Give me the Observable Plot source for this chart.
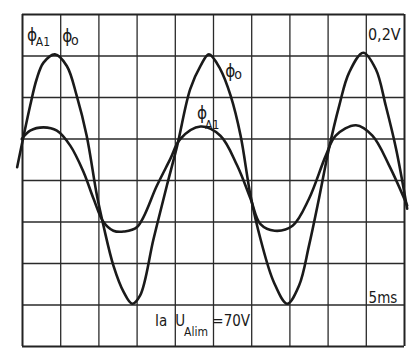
<!DOCTYPE html>
<html>
<head>
<meta charset="utf-8">
<script src="https://cdn.jsdelivr.net/npm/d3@7"></script>
<script src="https://cdn.jsdelivr.net/npm/@observablehq/plot@0.6"></script>
<style>
  html, body { margin: 0; padding: 0; background: #fff; }
  svg { display: block; }
</style>
</head>
<body>
<div id="chart"></div>
<script>
// Time axis in divisions (5 ms/div), amplitude in divisions (0.2 V/div)
const tPhiO = [-0.14, 0.2, 0.37, 0.55, 0.85, 1.16, 1.42, 1.68, 1.95, 2.12, 2.38, 2.65, 2.87, 3.08, 3.43, 3.78, 4.05, 4.39, 4.66, 4.88, 5.18, 5.45, 5.71, 5.97, 6.23, 6.58, 6.93, 7.24, 7.5, 7.76, 8.02, 8.29, 8.55, 8.92, 9.25, 9.51, 9.78, 10.07];
const vPhiO = [0.32, 1.8, 2.44, 2.84, 3.04, 2.76, 2.04, 1.08, -0.37, -1.09, -2.05, -2.69, -2.97, -2.77, -1.41, -0.12, 0.84, 2.2, 2.76, 3.04, 2.68, 2.04, 1.08, -0.37, -1.41, -2.45, -2.97, -2.53, -1.57, -0.44, 0.76, 1.8, 2.6, 3.08, 2.68, 1.8, 0.76, -0.68];

const tPhiA1 = [-0.02, 0.2, 0.55, 0.9, 1.25, 1.6, 1.86, 2.12, 2.38, 2.65, 3.0, 3.52, 3.87, 4.13, 4.66, 5.18, 5.62, 5.97, 6.23, 6.6, 7.07, 7.5, 7.94, 8.2, 8.73, 9.16, 9.6, 10.07];
const vPhiA1 = [1.0, 1.2, 1.28, 1.2, 0.84, 0.2, -0.44, -1.0, -1.21, -1.23, -1.12, -0.12, 0.52, 1.0, 1.3, 1.08, 0.36, -0.44, -1.05, -1.21, -1.09, -0.44, 0.6, 1.08, 1.33, 1.08, 0.36, -0.6];

const gridX = [0, 1, 2, 3, 4, 5, 6, 7, 8, 9, 10];
const gridY = [-4, -3, -2, -1, 0, 1, 2, 3, 4];

const phiSym = "ϕ";
const subA1 = "A1";
const subO = "o";
const scaleV = "0,2V";
const scaleT = "5ms";
const capIa = "Ia";
const capU = "U";
const capAlim = "Alim";
const capVal = "=70V";

const phiO = tPhiO.map((t, i) => ({t, v: vPhiO[i]}));
const phiA1 = tPhiA1.map((t, i) => ({t, v: vPhiA1[i]}));

const font = "DejaVu Sans Condensed, DejaVu Sans, sans-serif";
const ink = "#1a1a1a";
const lbl = (txt, x, y, size, anchor = "start") =>
  Plot.text([txt], {x: () => x, y: () => y, text: d => d, fontSize: size, textAnchor: anchor, fill: ink, fontFamily: font});

const chart = Plot.plot({
  width: 420,
  height: 358,
  marginLeft: 22,
  marginRight: 16,
  marginTop: 14,
  marginBottom: 12,
  x: {domain: [0, 10], axis: null},
  y: {domain: [-4, 4], axis: null},
  style: {background: "#fff"},
  marks: [
    Plot.ruleX(gridX.filter(d => d > 0 && d < 10), {stroke: "#2a2a2a", strokeWidth: 1.3}),
    Plot.ruleY(gridY.filter(d => d > -4 && d < 4), {stroke: "#2a2a2a", strokeWidth: 1.3}),
    Plot.ruleX([0, 10], {stroke: "#222", strokeWidth: 2}),
    Plot.ruleY([-4, 4], {stroke: "#222", strokeWidth: 2}),
    Plot.line(phiO, {x: "t", y: "v", curve: "catmull-rom", stroke: ink, strokeWidth: 2.6, clip: false}),
    Plot.line(phiA1, {x: "t", y: "v", curve: "catmull-rom", stroke: ink, strokeWidth: 2.6, clip: false}),
    lbl(phiSym, 0.12, 3.5, 17),
    lbl(subA1, 0.35, 3.33, 12),
    lbl(phiSym, 1.04, 3.47, 17),
    lbl(subO, 1.27, 3.37, 14),
    lbl(scaleV, 9.9, 3.52, 16, "end"),
    lbl(phiSym, 5.31, 2.63, 17),
    lbl(subO, 5.54, 2.56, 14),
    lbl(phiSym, 4.57, 1.62, 17),
    lbl(subA1, 4.78, 1.33, 12),
    lbl(scaleT, 9.06, -2.83, 15),
    lbl(capIa, 3.47, -3.38, 15),
    lbl(capU, 4.0, -3.38, 15),
    lbl(capAlim, 4.23, -3.66, 12),
    lbl(capVal, 4.97, -3.38, 15)
  ]
});
document.getElementById("chart").appendChild(chart);
</script>
</body>
</html>
